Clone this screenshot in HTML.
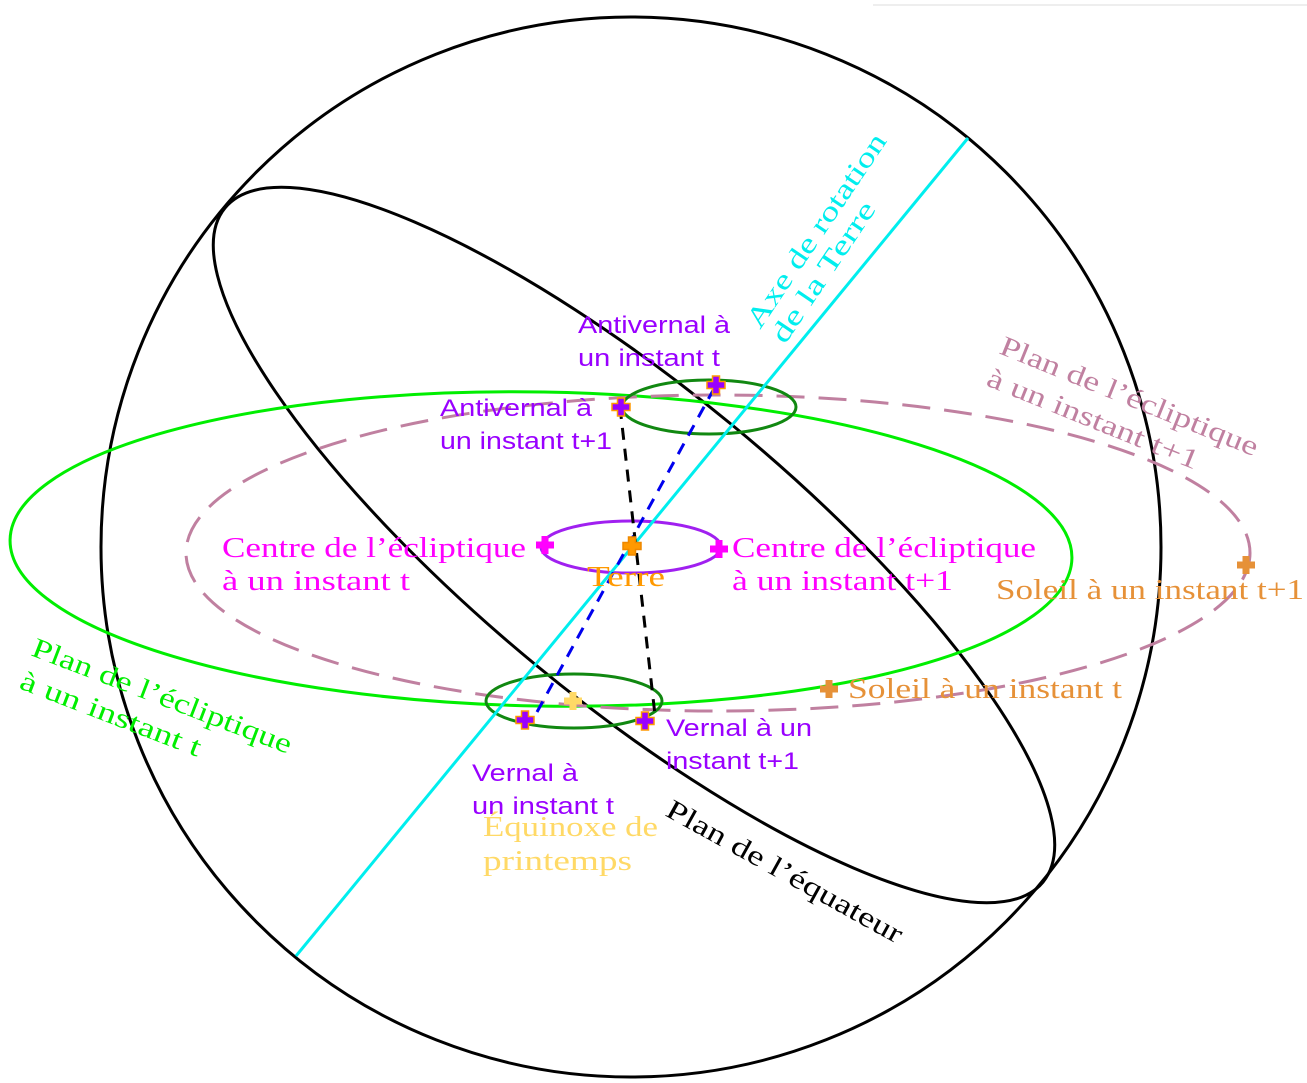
<!DOCTYPE html>
<html><head><meta charset="utf-8"><style>
html,body{margin:0;padding:0;background:#fff}
svg{display:block}
.s{font-family:"Liberation Serif",serif;font-size:28px}
.a{font-family:"Liberation Sans",sans-serif;font-size:24px;fill:#9900ff}
</style></head><body>
<svg width="1307" height="1083" viewBox="0 0 1307 1083" xmlns="http://www.w3.org/2000/svg">
<defs>
<path id="p" d="M-3.5,-9 H3.5 V-3.5 H9 V3.5 H3.5 V9 H-3.5 V3.5 H-9 V-3.5 H-3.5 Z"/>
</defs>
<line x1="873" y1="5" x2="1307" y2="5" stroke="#ddd" stroke-width="1"/>
<circle cx="631" cy="547" r="530" fill="none" stroke="#000" stroke-width="3"/>
<ellipse cx="634" cy="545" rx="530" ry="155" transform="rotate(39.5 634 545)" fill="none" stroke="#000" stroke-width="3"/>
<ellipse cx="541" cy="549" rx="531" ry="157" transform="rotate(1 541 549)" fill="none" stroke="#00ee00" stroke-width="3"/>
<ellipse cx="718" cy="553" rx="532" ry="158" fill="none" stroke="#c080a0" stroke-width="3" stroke-dasharray="28,14"/>
<ellipse cx="709" cy="407" rx="87" ry="27" fill="none" stroke="#118811" stroke-width="3"/>
<ellipse cx="574" cy="701" rx="88" ry="27" fill="none" stroke="#118811" stroke-width="3"/>
<ellipse cx="631" cy="547" rx="90" ry="26" fill="none" stroke="#a020f0" stroke-width="3"/>
<line x1="296" y1="956" x2="968" y2="138" stroke="#00eeee" stroke-width="3"/>
<line x1="537" y1="712" x2="716" y2="385" stroke="#0000ee" stroke-width="3" stroke-dasharray="12,9"/>
<line x1="620" y1="407" x2="655" y2="715" stroke="#000" stroke-width="3" stroke-dasharray="12,9"/>
<g stroke-width="1.5">
<use href="#p" x="716" y="385" fill="#9900ff" stroke="#ff9900"/>
<use href="#p" x="621" y="407" fill="#9900ff" stroke="#ff9900"/>
<use href="#p" x="525" y="720" fill="#9900ff" stroke="#ff9900"/>
<use href="#p" x="645" y="721" fill="#9900ff" stroke="#ff9900"/>
<use href="#p" x="545" y="545" fill="#ff00ff" stroke="none"/>
<use href="#p" x="719" y="549" fill="#ff00ff" stroke="none"/>
<use href="#p" x="632" y="546" fill="#ff9900" stroke="#ee8800"/>
<use href="#p" x="573" y="701" fill="#ffd966" stroke="none"/>
<use href="#p" x="829" y="689" fill="#e69138" stroke="none"/>
<use href="#p" x="1246" y="565" fill="#e69138" stroke="none"/>
</g>
<text class="a" x="578" y="333" textLength="152" lengthAdjust="spacingAndGlyphs">Antivernal à</text>
<text class="a" x="578" y="366" textLength="142" lengthAdjust="spacingAndGlyphs">un instant t</text>
<text class="a" x="440" y="416" textLength="152" lengthAdjust="spacingAndGlyphs">Antivernal à</text>
<text class="a" x="440" y="449" textLength="172" lengthAdjust="spacingAndGlyphs">un instant t+1</text>
<text class="a" x="666" y="736" textLength="146" lengthAdjust="spacingAndGlyphs">Vernal à un</text>
<text class="a" x="666" y="769" textLength="133" lengthAdjust="spacingAndGlyphs">instant t+1</text>
<text class="a" x="472" y="781" textLength="106" lengthAdjust="spacingAndGlyphs">Vernal à</text>
<text class="a" x="472" y="814" textLength="142" lengthAdjust="spacingAndGlyphs">un instant t</text>
<text class="s" x="222" y="557" fill="#ff00ff" textLength="304" lengthAdjust="spacingAndGlyphs">Centre de l’écliptique</text>
<text class="s" x="222" y="590" fill="#ff00ff" textLength="188" lengthAdjust="spacingAndGlyphs">à un instant t</text>
<text class="s" x="732" y="557" fill="#ff00ff" textLength="304" lengthAdjust="spacingAndGlyphs">Centre de l’écliptique</text>
<text class="s" x="732" y="590" fill="#ff00ff" textLength="221" lengthAdjust="spacingAndGlyphs">à un instant t+1</text>
<text class="s" x="587" y="586" fill="#ff9900" textLength="78" lengthAdjust="spacingAndGlyphs">Terre</text>
<text class="s" x="996" y="599" fill="#e69138" textLength="308" lengthAdjust="spacingAndGlyphs">Soleil à un instant t+1</text>
<text class="s" x="848" y="698" fill="#e69138" textLength="274" lengthAdjust="spacingAndGlyphs">Soleil à un instant t</text>
<text class="s" x="483" y="836" fill="#ffd966" textLength="175" lengthAdjust="spacingAndGlyphs">Équinoxe de</text>
<text class="s" x="483" y="870" fill="#ffd966" textLength="149" lengthAdjust="spacingAndGlyphs">printemps</text>
<text class="s" fill="#00ee00" transform="translate(30,655) rotate(21)" textLength="276" lengthAdjust="spacingAndGlyphs">Plan de l’écliptique</text>
<text class="s" fill="#00ee00" transform="translate(18,688) rotate(21)" textLength="192" lengthAdjust="spacingAndGlyphs">à un instant t</text>
<text class="s" fill="#c080a0" transform="translate(998,353) rotate(22)" textLength="276" lengthAdjust="spacingAndGlyphs">Plan de l’écliptique</text>
<text class="s" fill="#c080a0" transform="translate(985,385) rotate(22)" textLength="226" lengthAdjust="spacingAndGlyphs">à un instant t+1</text>
<text class="s" fill="#000" transform="translate(664,815) rotate(29)" textLength="266" lengthAdjust="spacingAndGlyphs">Plan de l’équateur</text>
<text class="s" fill="#00eeee" transform="translate(760,330) rotate(-56)" textLength="228" lengthAdjust="spacingAndGlyphs">Axe de rotation</text>
<text class="s" fill="#00eeee" transform="translate(785,345) rotate(-56)" textLength="164" lengthAdjust="spacingAndGlyphs">de la Terre</text>
</svg>
</body></html>
